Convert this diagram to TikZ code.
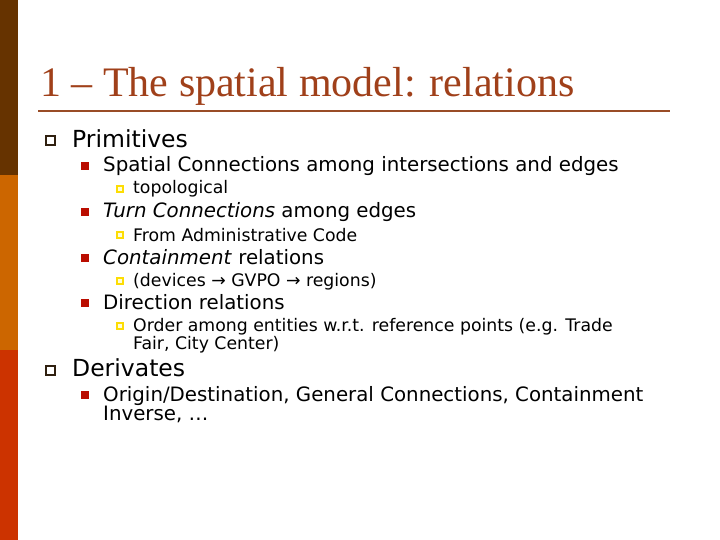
\documentclass[tikz,border=0pt]{standalone}
\usepackage{fontspec}
\setmainfont{DejaVu Sans}
\newfontfamily\titlefont{Liberation Serif}
\begin{document}
\begin{tikzpicture}[x=1pt,y=-1pt,
  la/.style={anchor=base west,inner sep=0pt,font=\fontsize{23.5}{23.5}\selectfont},
  lb/.style={anchor=base west,inner sep=0pt,font=\fontsize{19.8}{19.8}\selectfont},
  lc/.style={anchor=base west,inner sep=0pt,font=\fontsize{17.3}{17.3}\selectfont},
  ba/.style={draw=black!75!brown,line width=2pt,fill=white},
  bb/.style={fill=red!70!black!90!orange},
  bc/.style={draw=yellow!80!orange,line width=1.3pt,fill=yellow!15}]
\useasboundingbox (0,0) rectangle (720,540);
\fill[white] (0,0) rectangle (720,540);
\fill[fill={rgb,255:red,102;green,51;blue,0}] (0,0) rectangle (18,175);
\fill[fill={rgb,255:red,204;green,102;blue,0}] (0,175) rectangle (18,350);
\fill[fill={rgb,255:red,204;green,51;blue,0}] (0,350) rectangle (18,540);
\node[anchor=base west,inner sep=0pt,text={rgb,255:red,160;green,64;blue,26},font=\titlefont\fontsize{42}{42}\selectfont] (title) at (40,97) {1 – The spatial model: relations};
\draw[draw={rgb,255:red,153;green,76;blue,38},line width=1.6pt] (38,111) -- (670,111);
% level 1
\foreach \y in {141,371} \draw[ba] (46,\y-5) rectangle (55,\y+4);
\node[la] (p) at (72,148) {Primitives};
\node[la] (d) at (72,376) {Derivates};
% level 2
\foreach \y in {166,212,258,303,395} \fill[bb] (81,\y-4) rectangle (89,\y+4);
\node[lb] (s) at (103,172) {Spatial Connections among intersections and edges};
\node[lb] (t) at (103,218) {\textit{Turn Connections} among edges};
\node[lb] (c) at (103,264) {\textit{Containment} relations};
\node[lb] (r) at (103,309) {Direction relations};
\node[lb] (o) at (103,401) {Origin/Destination, General Connections, Containment};
\node[lb] (o2) at (103,420) {Inverse, …};
% level 3
\foreach \y in {189,235,281,326} \draw[bc] (117,\y-3) rectangle (123,\y+3);
\node[lc] (a1) at (133,194) {topological};
\node[lc] (a2) at (133,241) {From Administrative Code};
\node[lc] (a3) at (133,286) {(devices → GVPO → regions)};
\node[lc] (a4) at (133,331) {Order among entities w.r.t. reference points (e.g. Trade};
\node[lc] (a5) at (133,349) {Fair, City Center)};
\end{tikzpicture}
\end{document}
